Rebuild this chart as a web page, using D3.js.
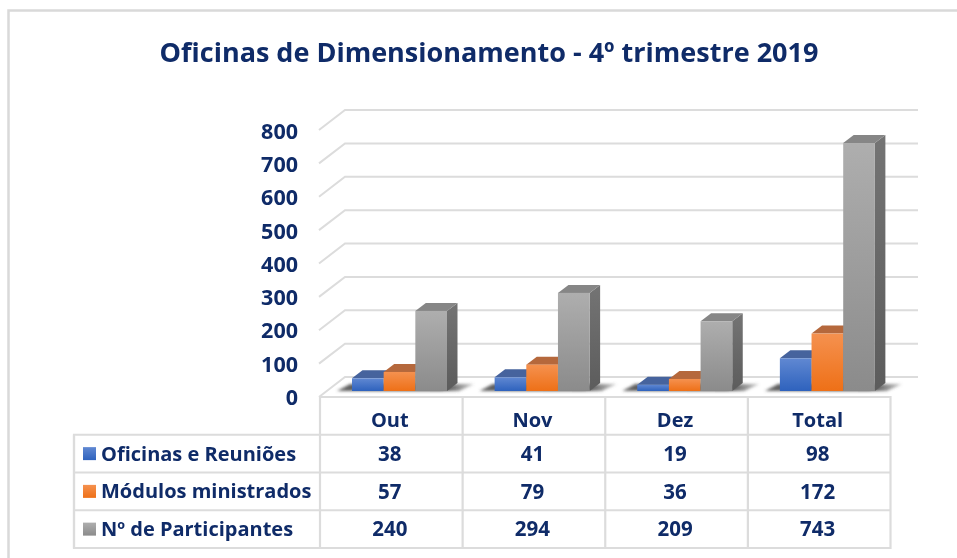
<!DOCTYPE html>
<html><head><meta charset="utf-8">
<script src="https://cdn.jsdelivr.net/npm/d3@7"></script>
<style>html,body{margin:0;padding:0;background:#fff}svg{display:block;filter:blur(0.45px)}text{font-family:"Open Sans",sans-serif;font-weight:700;fill:#0f2b68}</style>
</head><body><div id="c"></div>
<script>
const categories=["Out","Nov","Dez","Total"];
const seriesNames=["Oficinas e Reuniões","Módulos ministrados","Nº de Participantes"];
const oficinas=[38,41,19,98];
const modulos=[57,79,36,172];
const participantes=[240,294,209,743];
const yTicks=[0,100,200,300,400,500,600,700,800];
const titleText="Oficinas de Dimensionamento - 4º trimestre 2019";
const seriesValues=[oficinas,modulos,participantes];

const W=957,H=558,grid="#dcdcdc";
const depthX=26,depthY=20,barDX=10.5,barDY=8;
const svg=d3.select("#c").append("svg").attr("width",W).attr("height",H);
const defs=svg.append("defs");
const pal=[
 {front:["#6088d2","#2e62bd"],top:"#46639d"},
 {front:["#f5914f","#ee7017"],top:"#b5683c"},
 {front:["#aeaeae","#8b8b8b"],top:"#868686"}];
pal.forEach((p,i)=>{
 const g=defs.append("linearGradient").attr("id","f"+i).attr("x1",0).attr("x2",0).attr("y1",0).attr("y2",1);
 g.append("stop").attr("offset",0).attr("stop-color",p.front[0]);
 g.append("stop").attr("offset",1).attr("stop-color",p.front[1]);
});
const sg=defs.append("linearGradient").attr("id","side").attr("x1",0).attr("x2",0).attr("y1",0).attr("y2",1);
sg.append("stop").attr("offset",0).attr("stop-color","#747474");
sg.append("stop").attr("offset",1).attr("stop-color","#5c5c5c");
const sh=defs.append("linearGradient").attr("id","shadow").attr("x1",0).attr("x2",1).attr("y1",0).attr("y2",0);
sh.append("stop").attr("offset",0).attr("stop-color","#555").attr("stop-opacity",.9);
sh.append("stop").attr("offset",.75).attr("stop-color","#333");
sh.append("stop").attr("offset",1).attr("stop-color","#666").attr("stop-opacity",.35);
defs.append("filter").attr("id","blur").attr("x","-10%").attr("width","120%").attr("y","-60%").attr("height","220%")
  .append("feGaussianBlur").attr("stdDeviation",1.6);

svg.append("path").attr("d",`M8.5,${H}V10.5H${W}`).attr("fill","none").attr("stroke","#d9d9d9").attr("stroke-width",2.5);

const tableL=74,tableX=320,tableR=890.5,plotTop=110,plotBase=377,gridR=918;
const x=d3.scaleBand().domain(categories).range([tableX,tableR]);
const xs=d3.scaleBand().domain(seriesNames).range([32,127]);
const yBack=d3.scaleLinear().domain([0,800]).range([plotBase,plotTop]);
const yAxisScale=d3.scaleLinear().domain([0,800]).range([plotBase+depthY-1,plotTop+depthY]);
const yBar=d3.scaleLinear().domain([0,800]).range([391,391-267]);

const g=svg.append("g").attr("fill","none").attr("stroke",grid).attr("stroke-width",2);
g.selectAll("path").data(yTicks).join("path")
 .attr("d",v=>`M${tableX-1},${yBack(v)+depthY}L${tableX-1+depthX},${yBack(v)}H${gridR}`);

const ax=svg.append("g").attr("transform","translate(298,1.5)")
 .call(d3.axisLeft(yAxisScale).tickValues(yTicks).tickSize(0).tickPadding(0));
ax.select(".domain").remove();
ax.selectAll("text").style("font-size","21.5px").style("font-family",'"Open Sans",sans-serif').style("font-weight",700).attr("fill","#0f2b68");

svg.append("g").selectAll("path").data(categories).join("path")
 .attr("d",c=>{const l=x(c)+xs(seriesNames[0]),r=x(c)+xs(seriesNames[2])+xs.bandwidth();
   return `M${l-15},391L${l-2},384H${r+27}L${r+12},391Z`;})
 .attr("fill","url(#shadow)").attr("filter","url(#blur)");

const bars=svg.append("g");
seriesNames.forEach((name,si)=>{
 const b=bars.append("g").selectAll("g").data(categories.map((c,i)=>({c,v:seriesValues[si][i]}))).join("g");
 const bw=xs.bandwidth();
 const L=d=>x(d.c)+xs(name);
 b.append("path").attr("fill","url(#side)")
  .attr("d",d=>`M${L(d)+bw},${yBar(d.v)}l${barDX},${-barDY}V${yBar(0)-barDY}L${L(d)+bw},${yBar(0)}Z`);
 b.append("path").attr("fill",pal[si].top)
  .attr("d",d=>`M${L(d)},${yBar(d.v)}l${barDX},${-barDY}h${bw}l${-barDX},${barDY}Z`);
 b.append("rect").attr("x",L).attr("width",bw).attr("y",d=>yBar(d.v)).attr("height",d=>yBar(0)-yBar(d.v)).attr("fill",`url(#f${si})`);
});

const rowY=d3.scaleBand().domain(["head",...seriesNames]).range([397,548]);
const t=svg.append("g").attr("fill","none").attr("stroke",grid).attr("stroke-width",2.2);
t.append("path").attr("d",`M${tableX},397H${tableR}V548H${tableL}V${rowY(seriesNames[0])}H${tableR}`);
seriesNames.slice(1).forEach(n=>t.append("path").attr("d",`M${tableL},${rowY(n)}H${tableR}`));
categories.forEach(c=>t.append("path").attr("d",`M${x(c)},397V548`));
t.append("path").attr("d",`M${tableL},${rowY(seriesNames[0])}V548`);

const cell=(xx,yy,s,anchor,size)=>svg.append("text").attr("x",xx).attr("y",yy).attr("dy","0.35em")
  .attr("text-anchor",anchor).style("font-size",size+"px").text(s);
categories.forEach(c=>cell(x(c)+x.bandwidth()/2-1.5,rowY("head")+rowY.bandwidth()/2+4,c,"middle",20));
seriesNames.forEach((n,si)=>{
 const cy=rowY(n)+rowY.bandwidth()/2;
 svg.append("rect").attr("x",83).attr("y",cy-6.5).attr("width",13).attr("height",13).attr("fill",`url(#f${si})`);
 cell(101,cy,n,"start",20);
 categories.forEach((c,i)=>cell(x(c)+x.bandwidth()/2-1.5,cy,seriesValues[si][i],"middle",20.5));
});

svg.append("text").attr("x",489).attr("y",53).attr("dy","0.35em").attr("text-anchor","middle").style("font-size","27px").text(titleText);
</script></body></html>
